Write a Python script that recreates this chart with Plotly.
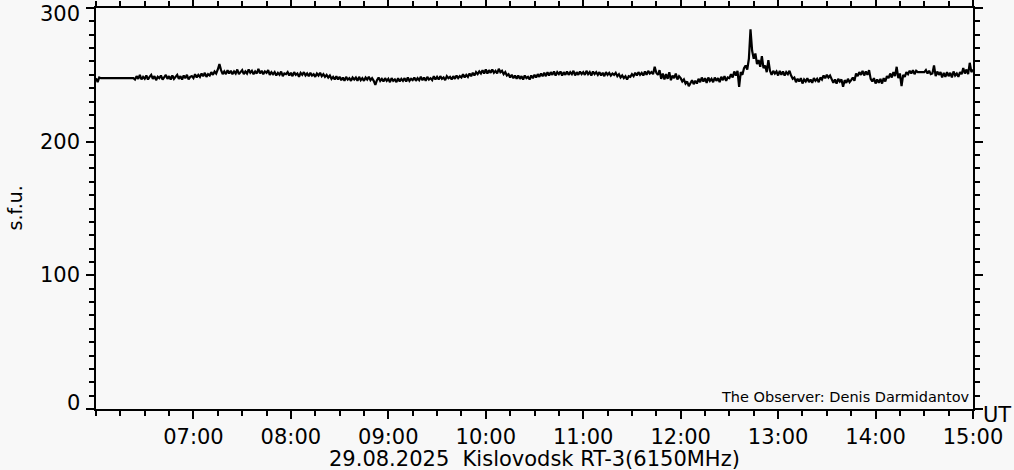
import pandas as pd
import plotly.graph_objects as go

# ---- data ----
day = "2025-08-29"
# short opening segment (06:00-06:03)
early_times = ["06:00", "06:01", "06:02", "06:03"]
early_flux = [247.5, 244.5, 248.0, 247.5]

# main record: 1-minute samples from 06:23 to 15:00
main_start = "06:23"
main_step_min = 1
main_flux = [
    247.5, 246.5, 249, 247, 250, 246.5, 248.5,                      # 06:23
    247, 249.5, 246.5, 248.5, 250, 247, 249, 246, 248.5, 247.5,     # 06:30
    249.5, 246.5, 248, 250, 247, 249, 246.5, 249.5, 247, 248.5,     # 06:40
    250, 247, 249, 246.5, 249.5, 247.5, 250, 246.5, 248.5, 249,     # 06:50
    247.5, 250.5, 248, 250, 248.5, 251, 249, 251.5, 248.5, 250.5,   # 07:00
    249.5, 252, 250, 252.5, 251, 254, 258, 253.5, 250.5, 252.5,     # 07:10
    250.5, 253.5, 251, 253, 250.5, 252.5, 251, 254, 250.5, 252,     # 07:20
    253.5, 250.5, 252.5, 251, 254, 251.5, 253, 250.5, 252.5, 251,   # 07:30
    254.5, 251, 253, 250.5, 252.5, 251.5, 253.5, 250, 252, 250.5,   # 07:40
    252, 249.5, 251.5, 250, 252.5, 249, 251, 250.5, 252, 249.5,     # 07:50
    251.5, 249, 252, 250, 251, 248.5, 251.5, 250, 252, 249.5,       # 08:00
    251, 249, 251.5, 249.5, 250.5, 248.5, 251, 249.5, 251.5, 249,   # 08:10
    250.5, 248.5, 250, 248, 249.5, 247, 248.5, 246.5, 249, 246.5,   # 08:20
    248.5, 246, 248, 245.5, 248.5, 246.5, 247.5, 245.5, 248, 246.5, # 08:30
    248, 245.5, 248.5, 246, 247.5, 245.5, 248, 246.5, 248.5, 246,   # 08:40
    247.5, 245.5, 242.5, 246, 248, 245.5, 247, 245, 247.5, 245.5,   # 08:50
    247, 244.5, 247.5, 245.5, 246.5, 244.5, 247.5, 245, 247, 245.5, # 09:00
    247.5, 245, 248, 245.5, 247, 246, 248, 245.5, 247.5, 246,       # 09:10
    248.5, 246, 248, 245.5, 248.5, 246.5, 247.5, 246, 249, 246.5,   # 09:20
    248.5, 246.5, 249, 247, 248, 246, 249, 247.5, 248.5, 246.5,     # 09:30
    249, 247, 249.5, 247.5, 249, 248, 250.5, 248, 250, 248.5,       # 09:40
    251, 249, 251.5, 249.5, 252, 250.5, 252.5, 251, 253.5, 251,     # 09:50
    254, 251, 253.5, 251.5, 254, 251.5, 253, 251, 254.5, 252,       # 10:00
    253, 250.5, 252, 249.5, 250.5, 248, 250, 247.5, 249.5, 247,     # 10:10
    249.5, 247, 249, 246.5, 249.5, 247.5, 248.5, 246.5, 249.5, 247.5, # 10:20
    250, 248, 250.5, 248.5, 251, 249, 251.5, 249, 252, 249.5,       # 10:30
    252, 250, 252.5, 249.5, 252, 250.5, 252.5, 249.5, 252, 250,     # 10:40
    252.5, 250, 252, 250.5, 253, 249.5, 252, 250, 252.5, 250.5,     # 10:50
    252, 250, 253, 250.5, 252, 249.5, 252.5, 250.5, 252, 250,       # 11:00
    252, 249.5, 251.5, 249, 252, 250, 251.5, 249.5, 251, 250,       # 11:10
    251.5, 249, 250.5, 248, 249.5, 247.5, 249, 246.5, 249, 248.5,   # 11:20
    250.5, 249, 251.5, 249.5, 252, 250, 251.5, 249.5, 252.5, 250,   # 11:30
    253, 251, 252, 250.5, 256, 251.5, 250, 253.5, 247, 251,         # 11:40
    246.5, 250.5, 247, 252, 246, 249.5, 247.5, 251, 246.5, 249,     # 11:50
    247.5, 245, 246.5, 243.5, 245, 241.5, 244, 246, 243, 245.5,     # 12:00
    243.5, 247, 244.5, 248, 245, 247.5, 244, 248, 245.5, 247,       # 12:10
    244.5, 248, 245.5, 247.5, 244.5, 248.5, 246, 249, 245.5, 248,   # 12:20
    247.5, 250.5, 248, 252.5, 249.5, 253, 241, 252, 250, 255,       # 12:30
    257, 254, 262, 284, 268, 262, 266, 258, 261, 256,               # 12:40
    264, 255, 257, 252, 261, 253, 250, 253, 251, 252.5,             # 12:50
    249.5, 253, 250, 252.5, 249.5, 252, 250.5, 253, 249.5, 247,     # 13:00
    248, 244.5, 247, 245, 247.5, 243.5, 246.5, 245, 247.5, 244.5,   # 13:10
    246.5, 244, 247.5, 245.5, 247, 244.5, 248, 246.5, 249.5, 247.5, # 13:20
    250, 248, 249.5, 246, 244, 246.5, 243.5, 247, 245, 246.5,       # 13:30
    241, 246, 244, 247, 244.5, 246, 248, 245.5, 251, 249,           # 13:40
    252, 250, 253, 249.5, 252.5, 250, 253.5, 247, 245, 247.5,       # 13:50
    243.5, 246.5, 244, 247, 243.5, 247.5, 245, 249, 247.5, 251,     # 14:00
    248, 252, 249, 256, 247.5, 251, 241.5, 250, 248.5, 252,         # 14:10
    250.5, 253, 251, 253.5, 250.5, 253, 252, 252, 252, 252,         # 14:20
    252, 253.5, 251, 253, 250.5, 251, 257, 249, 252.5, 250,         # 14:30
    252, 248, 251.5, 248.5, 252, 249, 251.5, 248, 252.5, 249.5,     # 14:40
    251, 248.5, 252, 250.5, 255, 251, 254, 250.5, 259, 252,         # 14:50
    254,                                                            # 15:00
]

hour_ticks = ["07:00", "08:00", "09:00", "10:00", "11:00",
              "12:00", "13:00", "14:00", "15:00"]
y_ticks = [0, 100, 200, 300]

# ---- build series ----
t0 = pd.Timestamp(f"{day} {main_start}")
main_times = [t0 + pd.Timedelta(minutes=main_step_min * i) for i in range(len(main_flux))]
times = [pd.Timestamp(f"{day} {t}") for t in early_times] + main_times
flux = early_flux + main_flux

bg = "#f8f8f8"
font_family = "DejaVu Sans"

fig = go.Figure()
fig.add_trace(go.Scatter(
    x=times, y=flux, mode="lines",
    line=dict(color="black", width=2.2),
    hoverinfo="skip", showlegend=False,
))

fig.update_layout(
    width=1014, height=470,
    margin=dict(l=96, r=41, t=8, b=61, autoexpand=False),
    paper_bgcolor=bg, plot_bgcolor=bg,
    font=dict(family=font_family, color="black", size=21),
    showlegend=False,
)

fig.update_xaxes(
    range=[f"{day} 06:00", f"{day} 15:00"],
    tickmode="array",
    tickvals=[f"{day} {h}" for h in hour_ticks],
    ticktext=hour_ticks,
    ticks="outside", ticklen=8, tickwidth=2, tickcolor="black",
    tickfont=dict(family=font_family, size=21, color="black"),
    minor=dict(tickmode="linear", tick0=f"{day} 06:00", dtick=15 * 60 * 1000,
               ticks="outside", ticklen=5, tickwidth=2, tickcolor="black"),
    showline=True, linewidth=2, linecolor="black", mirror="ticks",
    showgrid=False, zeroline=False, automargin=False,
)

fig.update_yaxes(
    range=[0, 300],
    tickmode="array", tickvals=y_ticks,
    showticklabels=False,
    ticks="outside", ticklen=8, tickwidth=2, tickcolor="black",
    minor=dict(tickmode="linear", tick0=0, dtick=10,
               ticks="outside", ticklen=5, tickwidth=2, tickcolor="black"),
    showline=True, linewidth=2, linecolor="black", mirror="ticks",
    showgrid=False, zeroline=False, automargin=False,
)

# y tick labels (end labels nudged inward as in the reference)
shifts = {0: 6, 100: 0, 200: 0, 300: -6}
for v in y_ticks:
    fig.add_annotation(
        x=0, xref="paper", y=v, yref="y",
        text=str(v), showarrow=False,
        xanchor="right", yanchor="middle",
        xshift=-14, yshift=shifts[v],
        font=dict(family=font_family, size=21, color="black"),
    )

fig.add_annotation(
    x=0, xref="paper", xshift=-82, y=0.5, yref="paper",
    text="s.f.u.", textangle=-90, showarrow=False,
    xanchor="center", yanchor="middle",
    font=dict(family=font_family, size=19, color="black"),
)
fig.add_annotation(
    x=1, xref="paper", xshift=8, y=0, yref="paper", yshift=-6,
    text="UT", showarrow=False, xanchor="left", yanchor="middle",
    font=dict(family=font_family, size=21, color="black"),
)
fig.add_annotation(
    x=1, xref="paper", xshift=-1, y=0, yref="paper", yshift=12,
    text="The Observer: Denis Darmidantov", showarrow=False,
    xanchor="right", yanchor="middle",
    font=dict(family=font_family, size=14.5, color="black"),
)
fig.add_annotation(
    x=0.5, xref="paper", y=0, yref="paper", yshift=-50, borderpad=0,
    text="29.08.2025  Kislovodsk RT-3(6150MHz)", showarrow=False,
    xanchor="center", yanchor="middle",
    font=dict(family=font_family, size=21, color="black"),
)

fig.write_html(
    "out.html",
    config={"displayModeBar": False},
    post_script="document.body.style.margin='0px';document.body.style.overflow='hidden';",
)
